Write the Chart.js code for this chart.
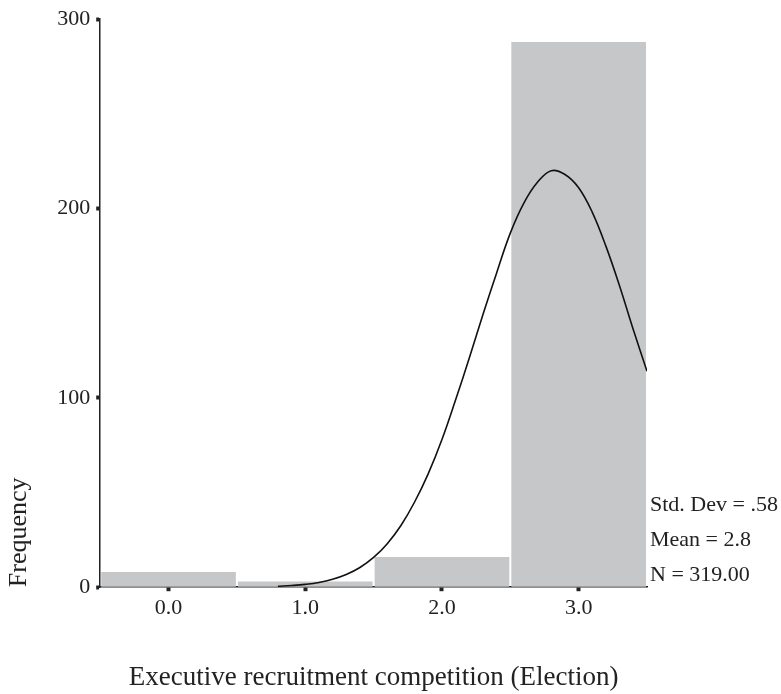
<!DOCTYPE html>
<html>
<head>
<meta charset="utf-8">
<script src="https://cdn.jsdelivr.net/npm/chart.js@4.4.1/dist/chart.umd.min.js"></script>
<style>
  html, body { margin: 0; padding: 0; background: #ffffff; }
  #wrap { width: 781px; height: 694px; }
</style>
</head>
<body>
<div id="wrap"><canvas id="c" width="781" height="694"></canvas></div>
<script>
// ---- data ----
const categories = [0, 1, 2, 3];
const frequencies = [8, 3, 16, 288];
const curveX = [0.8, 0.9, 1.0, 1.1, 1.2, 1.3, 1.4, 1.5, 1.6, 1.7, 1.8, 1.9, 2.0, 2.1, 2.2, 2.3, 2.4, 2.5, 2.6, 2.7, 2.8, 2.9, 3.0, 3.1, 3.2, 3.3, 3.4, 3.5];
const curveY = [0.5, 0.9, 1.5, 2.5, 4.2, 6.7, 10.4, 15.7, 23, 32.6, 45, 60, 78, 99, 121, 144, 166, 187, 203, 214, 220, 218, 211, 198, 180, 159, 136, 114];
const xTickValues = [0, 1, 2, 3];
const yTickValues = [0, 100, 200, 300];
const statLines = ['Std. Dev = .58', 'Mean = 2.8', 'N = 319.00'];
const xTitle = 'Executive recruitment competition (Election)';
const yTitle = 'Frequency';

const FONT = "'Liberation Serif', 'Times New Roman', serif";
const INK = '#222222';

const barData = categories.map((c, i) => ({ x: c, y: frequencies[i] }));
const curveData = curveX.map((x, i) => ({ x: x, y: curveY[i] }));

const statsPlugin = {
  id: 'stats',
  afterDraw(chart) {
    const ctx = chart.ctx;
    const area = chart.chartArea;
    ctx.save();
    ctx.font = "22px " + FONT;
    ctx.fillStyle = INK;
    ctx.textAlign = 'left';
    ctx.textBaseline = 'middle';
    const ys = [505, 540, 575];
    statLines.forEach((t, i) => ctx.fillText(t, area.right + 3, ys[i]));
    ctx.restore();
  }
};

new Chart(document.getElementById('c'), {
  data: {
    datasets: [
      {
        type: 'line',
        data: curveData,
        borderColor: '#111111',
        borderWidth: 1.6,
        pointRadius: 0,
        tension: 0.4,
        fill: false,
        order: 0
      },
      {
        type: 'bar',
        data: barData,
        backgroundColor: '#c6c7c9',
        borderWidth: 0,
        barPercentage: 0.985,
        categoryPercentage: 1.0,
        order: 1
      }
    ]
  },
  options: {
    responsive: false,
    animation: false,
    devicePixelRatio: 1,
    layout: { padding: { top: 17, right: 134, bottom: 0, left: 0 } },
    plugins: {
      legend: { display: false },
      tooltip: { enabled: false }
    },
    scales: {
      x: {
        type: 'linear',
        min: -0.5,
        max: 3.5,
        offset: false,
        afterBuildTicks(scale) { scale.ticks = xTickValues.map(v => ({ value: v })); },
        ticks: {
          callback: v => Number(v).toFixed(1),
          font: { family: FONT, size: 22 },
          color: INK,
          padding: 4,
          maxRotation: 0
        },
        grid: {
          display: true,
          offset: false,
          drawOnChartArea: false,
          drawTicks: true,
          tickLength: 4,
          tickWidth: 4,
          tickColor: INK
        },
        border: { display: true, color: INK, width: 1.5 },
        title: {
          display: true,
          text: xTitle,
          font: { family: FONT, size: 27 },
          color: INK,
          padding: { top: 36, bottom: 0 }
        }
      },
      y: {
        type: 'linear',
        min: 0,
        max: 300,
        afterBuildTicks(scale) { scale.ticks = yTickValues.map(v => ({ value: v })); },
        ticks: {
          font: { family: FONT, size: 22 },
          color: INK,
          padding: 6
        },
        grid: {
          display: true,
          drawOnChartArea: false,
          drawTicks: true,
          tickLength: 4,
          tickWidth: 4,
          tickColor: INK
        },
        border: { display: true, color: INK, width: 1.5 },
        title: {
          display: true,
          text: yTitle,
          align: 'start',
          font: { family: FONT, size: 26 },
          color: INK,
          padding: { top: 4, bottom: 16 }
        }
      }
    }
  },
  plugins: [statsPlugin]
});
</script>
</body>
</html>
